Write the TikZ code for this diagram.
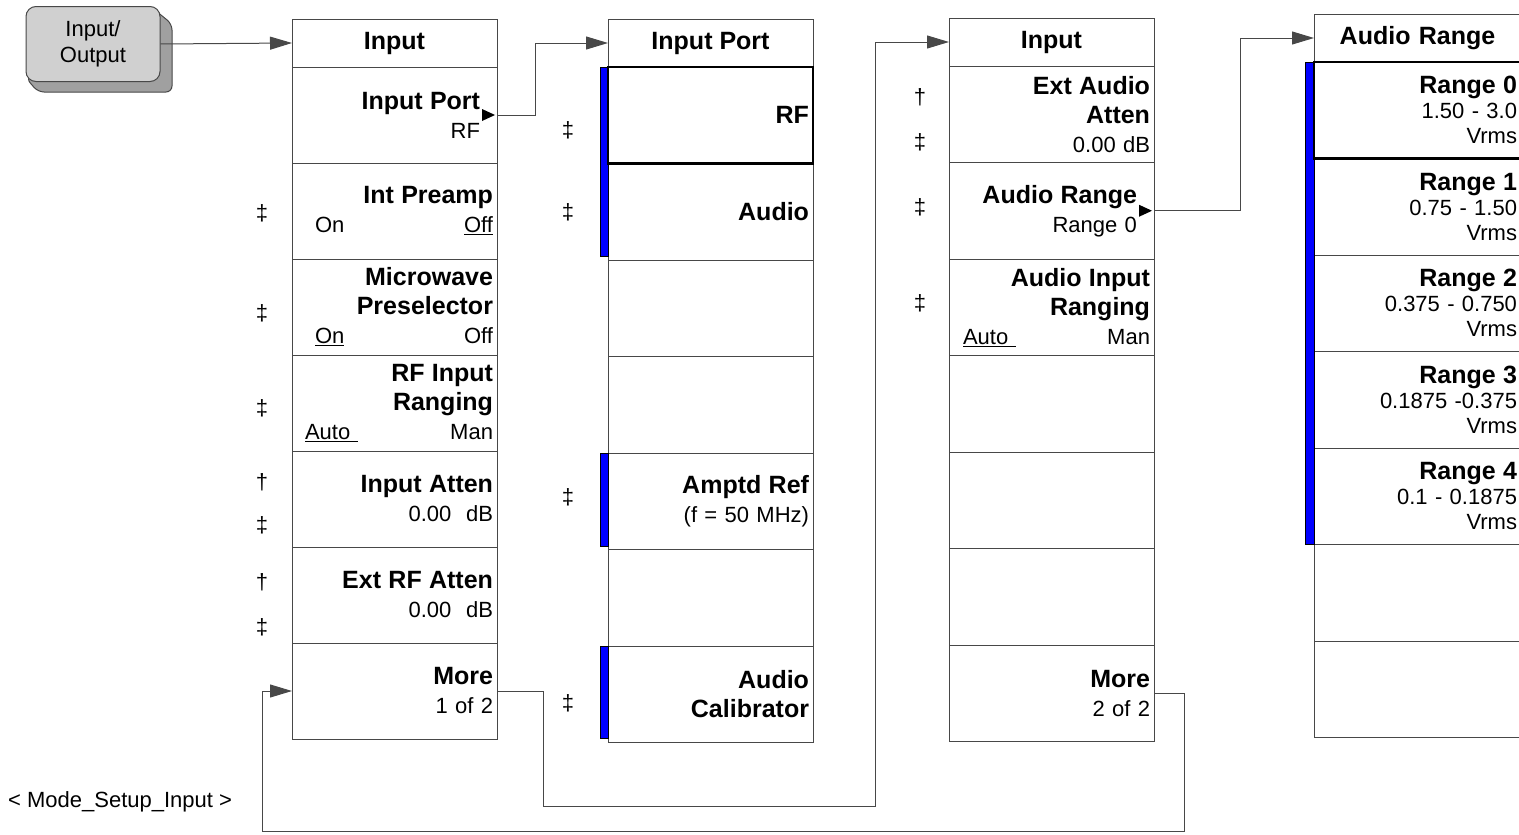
\documentclass[tikz,border=0pt]{standalone}
\usepackage{fontspec}
\setmainfont{Liberation Sans}
\usetikzlibrary{arrows.meta,calc,positioning}
\definecolor{KeyLine}{RGB}{72,72,72}
\definecolor{BtnFace}{RGB}{208,208,208}
\definecolor{BtnShade}{RGB}{160,160,160}
\definecolor{BarBlue}{RGB}{0,0,255}
\newcommand\kt[1]{{\fontsize{25}{28}\selectfont\bfseries #1}}

\begin{document}
\begin{tikzpicture}[
    x=1pt,y=-1pt,node distance=0pt,
    >={Triangle[length=22pt,width=13pt]},
    menuhead/.style={
      draw=KeyLine,line width=1pt,outer sep=0pt,minimum width=205pt,
      minimum height=48pt,align=center,font=\fontsize{25}{28}\selectfont\bfseries
    },
    softkey/.style={
      draw=KeyLine,line width=1pt,outer sep=0pt,minimum width=205pt,
      minimum height=96.5pt,text width=197pt,inner xsep=4pt,inner ysep=0pt,
      align=right,font=\fontsize{22}{29}\selectfont
    },
    widekey/.style={minimum width=207pt,text width=199pt},
    dagnote/.style={inner sep=0pt,font=\fontsize{22}{26}\selectfont},
    iobtn/.style={
      draw=KeyLine,line width=1pt,fill=BtnFace,rounded corners=10pt,
      minimum width=134pt,minimum height=75pt,align=center,
      font=\fontsize{22}{26}\selectfont
    },
    link/.style={KeyLine,line width=1pt},
    bluebar/.style={fill=BarBlue,draw=black,line width=0.6pt}
  ]
  \useasboundingbox (0,0) rectangle (1519,835);

  % Input/Output hardkey
  \fill[BtnShade,draw=KeyLine,line width=1pt,rounded corners=6pt]
    (150,6) -- (172,24) -- (172,92) -- (38,92) -- (26,78) -- cycle;
  \node[iobtn] (io) at (93,44) {Input/\\Output};

  % menu 1
  \node[menuhead,anchor=north west] (h1) at (292,19) {Input};
  \node[softkey,minimum height=96pt,below=of h1] (k11) {\kt{Input Port}\kern13pt\\RF\kern13pt};
  \node[softkey,minimum height=96pt,below=of k11] (k12) {\kt{Int Preamp}\\\hspace*{19pt}On\hfill\underline{Off}};
  \node[softkey,minimum height=96pt,below=of k12] (k13) {\kt{Microwave}\\\kt{Preselector}\\\hspace*{19pt}\underline{On}\hfill Off};
  \node[softkey,minimum height=96pt,below=of k13] (k14) {\kt{RF Input}\\\kt{Ranging}\\\hspace*{9pt}\underline{Auto\ }\hfill Man};
  \node[softkey,minimum height=96pt,below=of k14] (k15) {\kt{Input Atten}\\0.00\ \ dB};
  \node[softkey,minimum height=96pt,below=of k15] (k16) {\kt{Ext RF Atten}\\0.00\ \ dB};
  \node[softkey,minimum height=96pt,below=of k16] (k17) {\kt{More}\\1 of 2};
  \fill ([xshift=-2pt]k11.east) -- ++(-13,-6) -- ++(0,12) -- cycle;

  % menu 2
  \node[menuhead,anchor=north west] (h2) at (608,19) {Input Port};
  \node[softkey,below=of h2] (k21) {\kt{RF}};
  \node[softkey,below=of k21] (k22) {\kt{Audio}};
  \node[softkey,below=of k22] (k23) {};
  \node[softkey,below=of k23] (k24) {};
  \node[softkey,below=of k24] (k25) {\kt{Amptd Ref}\\(f = 50 MHz)};
  \node[softkey,below=of k25] (k26) {};
  \node[softkey,below=of k26] (k27) {\kt{Audio}\\\kt{Calibrator}};
  \draw[bluebar] ([xshift=-8pt]k21.north west) rectangle ([yshift=4pt]k22.south west);
  \draw[bluebar] ([xshift=-8pt]k25.north west) rectangle ([yshift=3pt]k25.south west);
  \draw[bluebar] ([xshift=-8pt]k27.north west) rectangle ([yshift=4pt]k27.south west);
  \draw[line width=2.5pt] (k21.north west) rectangle (k21.south east);

  % menu 3
  \node[menuhead,anchor=north west] (h3) at (949,18) {Input};
  \node[softkey,below=of h3] (k31) {\kt{Ext Audio}\\\kt{Atten}\\0.00 dB};
  \node[softkey,below=of k31] (k32) {\kt{Audio Range}\kern13pt\\Range 0\kern13pt};
  \node[softkey,below=of k32] (k33) {\kt{Audio Input}\\\kt{Ranging}\\\hspace*{10pt}\underline{Auto\ }\hfill Man};
  \node[softkey,below=of k33] (k34) {};
  \node[softkey,below=of k34] (k35) {};
  \node[softkey,below=of k35] (k36) {};
  \node[softkey,below=of k36] (k37) {\kt{More}\\2 of 2};
  \fill ([xshift=-2pt]k32.east) -- ++(-13,-6) -- ++(0,12) -- cycle;

  % menu 4
  \node[menuhead,widekey,anchor=north west] (h4) at (1314,14) {Audio Range};
  \node[softkey,widekey,font=\fontsize{22}{25}\selectfont,below=of h4] (k41) {\kt{Range 0}\\1.50 - 3.0\\Vrms};
  \node[softkey,widekey,font=\fontsize{22}{25}\selectfont,below=of k41] (k42) {\kt{Range 1}\\0.75 - 1.50\\Vrms};
  \node[softkey,widekey,font=\fontsize{22}{25}\selectfont,below=of k42] (k43) {\kt{Range 2}\\0.375 - 0.750\\Vrms};
  \node[softkey,widekey,font=\fontsize{22}{25}\selectfont,below=of k43] (k44) {\kt{Range 3}\\0.1875 -0.375\\Vrms};
  \node[softkey,widekey,font=\fontsize{22}{25}\selectfont,below=of k44] (k45) {\kt{Range 4}\\0.1 - 0.1875\\Vrms};
  \node[softkey,widekey,below=of k45] (k46) {};
  \node[softkey,widekey,below=of k46] (k47) {};
  \draw[bluebar] ([xshift=-9pt]k41.north west) rectangle (k45.south west);
  \draw[line width=2.5pt] (k41.north west) rectangle (k41.south east);

  % daggers
  \node[dagnote] (n12) at ($(k12.west)+(-30,2)$) {‡};
  \node[dagnote] (n13) at ($(k13.west)+(-30,6)$) {‡};
  \node[dagnote] (n14) at ($(k14.west)+(-30,5)$) {‡};
  \node[dagnote] (n15a) at ($(k15.west)+(-30,-17)$) {†};
  \node[dagnote] (n15b) at ($(k15.west)+(-30,26)$) {‡};
  \node[dagnote] (n16a) at ($(k16.west)+(-30,-13)$) {†};
  \node[dagnote] (n16b) at ($(k16.west)+(-30,32)$) {‡};
  \node[dagnote] (n21) at ($(k21.west)+(-40,15)$) {‡};
  \node[dagnote] (n22) at ($(k22.west)+(-40,1)$) {‡};
  \node[dagnote] (n25) at ($(k25.west)+(-40,-4)$) {‡};
  \node[dagnote] (n27) at ($(k27.west)+(-40,9)$) {‡};
  \node[dagnote] (n31a) at ($(k31.west)+(-29,-17)$) {†};
  \node[dagnote] (n31b) at ($(k31.west)+(-29,28)$) {‡};
  \node[dagnote] (n32) at ($(k32.west)+(-29,-3)$) {‡};
  \node[dagnote] (n33) at ($(k33.west)+(-29,-4)$) {‡};

  \node[anchor=west,inner sep=0pt,font=\fontsize{22}{26}\selectfont] (modelbl) at (8,802) {< Mode\_Setup\_Input >};

  % connectors
  \draw[link,->] (io.east) -- (h1.west);
  \draw[link,->] (k11.east) -- ++(38,0) |- (h2.west);
  \draw[link,->] (k32.east) -- ++(86,0) |- (h4.west);
  \draw[link,->] (k17.east) -- ++(46,0) -- ++(0,115) -| ([xshift=-74pt]h3.west) -- (h3.west);
  \draw[link,->] (k37.east) -- ++(30,0) -- ++(0,138) -| ([xshift=-30pt]k17.west) -- (k17.west);
\end{tikzpicture}
\end{document}
